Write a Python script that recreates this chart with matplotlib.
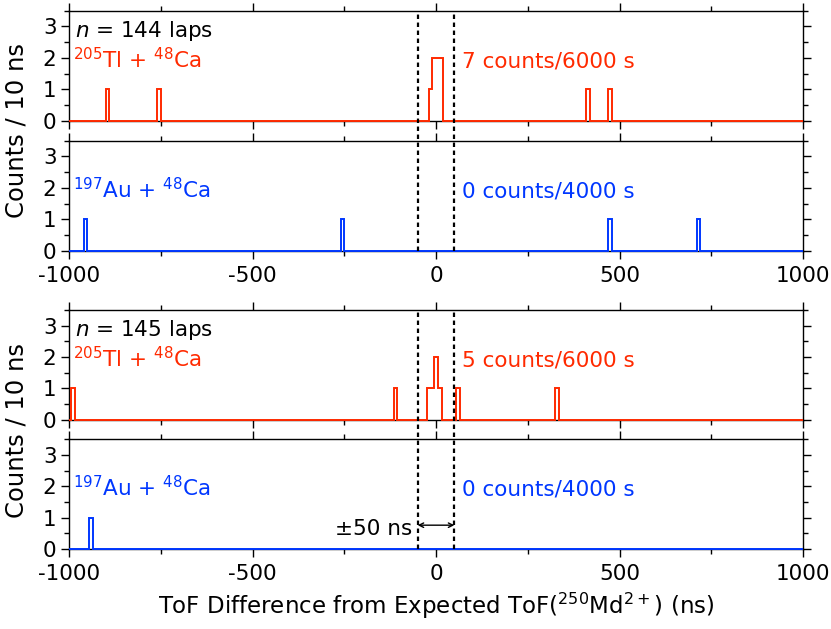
import matplotlib.pyplot as plt
import matplotlib.transforms as mtransforms
from matplotlib.lines import Line2D
from matplotlib.ticker import MultipleLocator
import numpy as np

plt.rcParams['font.family'] = ['DejaVu Sans']
plt.rcParams['mathtext.fontset'] = 'dejavusans'
plt.rcParams['axes.unicode_minus'] = False

RED = '#ff2a00'
BLUE = '#0037ff'
FS = 15.5

# histogram data: left edge of each 10 ns bin with non-zero counts
tl144_left = [-900, -760, -20, -10, 0, 10, 410, 470]
tl144_counts = [1, 1, 1, 2, 2, 2, 1, 1]
au144_left = [-960, -260, 470, 710]
au144_counts = [1, 1, 1, 1]
tl145_left = [-995, -115, -25, -15, -5, 5, 55, 325]
tl145_counts = [1, 1, 1, 1, 2, 1, 1, 1]
au145_left = [-945]
au145_counts = [1]

panels = [
    (tl144_left, tl144_counts, -1000, RED),
    (au144_left, au144_counts, -1000, BLUE),
    (tl145_left, tl145_counts, -1005, RED),
    (au145_left, au145_counts, -1005, BLUE),
]

laps = ['$n$ = 144 laps', '$n$ = 145 laps']
reactions = ['$^{205}$Tl + $^{48}$Ca', '$^{197}$Au + $^{48}$Ca',
             '$^{205}$Tl + $^{48}$Ca', '$^{197}$Au + $^{48}$Ca']
rates = ['7 counts/6000 s', '0 counts/4000 s', '5 counts/6000 s', '0 counts/4000 s']
window = 50

fig = plt.figure(figsize=(8.31, 6.29), dpi=100)
W, H = 831., 629.
left, right = 69, 803
boxes = [(10.5, 121), (140.5, 251), (310, 419.5), (439.3, 549)]
axes = []
for top, bot in boxes:
    ax = fig.add_axes([left / W, 1 - bot / H, (right - left) / W, (bot - top) / H])
    axes.append(ax)


def histo(lefts, counts, start):
    edges = np.unique(np.clip(np.arange(start, 1011, 10), -1000, 1000))
    vals = np.zeros(len(edges) - 1)
    for l, c in zip(lefts, counts):
        i = np.searchsorted(edges, l, side='right') - 1
        vals[i] = c
    return vals, edges


for i, (ax, (lefts, counts, start, col)) in enumerate(zip(axes, panels)):
    vals, edges = histo(lefts, counts, start)
    ax.stairs(vals, edges, color=col, lw=1.4, clip_on=False, zorder=3)
    ax.set_xlim(-1000, 1000)
    ax.set_ylim(0, 3.5)
    ax.xaxis.set_major_locator(MultipleLocator(500))
    ax.xaxis.set_minor_locator(MultipleLocator(250))
    ax.yaxis.set_major_locator(MultipleLocator(1))
    ax.yaxis.set_minor_locator(MultipleLocator(0.5))
    ax.tick_params(which='both', direction='out', top=True, right=True,
                   labelsize=FS, width=1)
    ax.tick_params(axis='x', pad=5)
    ax.tick_params(axis='y', pad=3)
    ax.tick_params(which='major', length=6)
    ax.tick_params(which='minor', length=3.5)
    for s in ax.spines.values():
        s.set_linewidth(1)
    if i % 2 == 0:
        ax.tick_params(labelbottom=False)
        ax.text(-985, 2.85, laps[i // 2], fontsize=FS, va='center', ha='left')
    ax.text(-990, 1.95, reactions[i], fontsize=FS, va='center', ha='left', color=col)
    ax.text(70, 1.9, rates[i], fontsize=FS, va='center', ha='left', color=col)

# dashed +-50 ns window spanning each pair of panels
for k in range(2):
    top_ax, bot_ax = axes[2 * k], axes[2 * k + 1]
    y0 = bot_ax.get_position().y0
    y1 = top_ax.get_position().y1
    tr = mtransforms.blended_transform_factory(top_ax.transData, fig.transFigure)
    for xv in (-window, window):
        fig.add_artist(Line2D([xv, xv], [y0, y1], transform=tr, color='k',
                              lw=1.6, linestyle=(0, (2, 1.6)), zorder=5))

ax4 = axes[3]
ax4.annotate('', xy=(-window, 0.76), xytext=(window, 0.76),
             arrowprops=dict(arrowstyle='<->', lw=1, color='k',
                             shrinkA=0, shrinkB=0, mutation_scale=8))
ax4.text(-66, 0.64, '±50 ns', fontsize=FS, ha='right', va='center')

ax4.set_xlabel('ToF Difference from Expected ToF($^{250}$Md$^{\\mathregular{2+}}$) (ns)',
               fontsize=16.5, labelpad=5)
fig.text(0.02, 1 - 131 / H, 'Counts / 10 ns', rotation=90, fontsize=17.5, ha='center', va='center')
fig.text(0.02, 1 - 430 / H, 'Counts / 10 ns', rotation=90, fontsize=17.5, ha='center', va='center')

fig.savefig('out.png', dpi=100)
